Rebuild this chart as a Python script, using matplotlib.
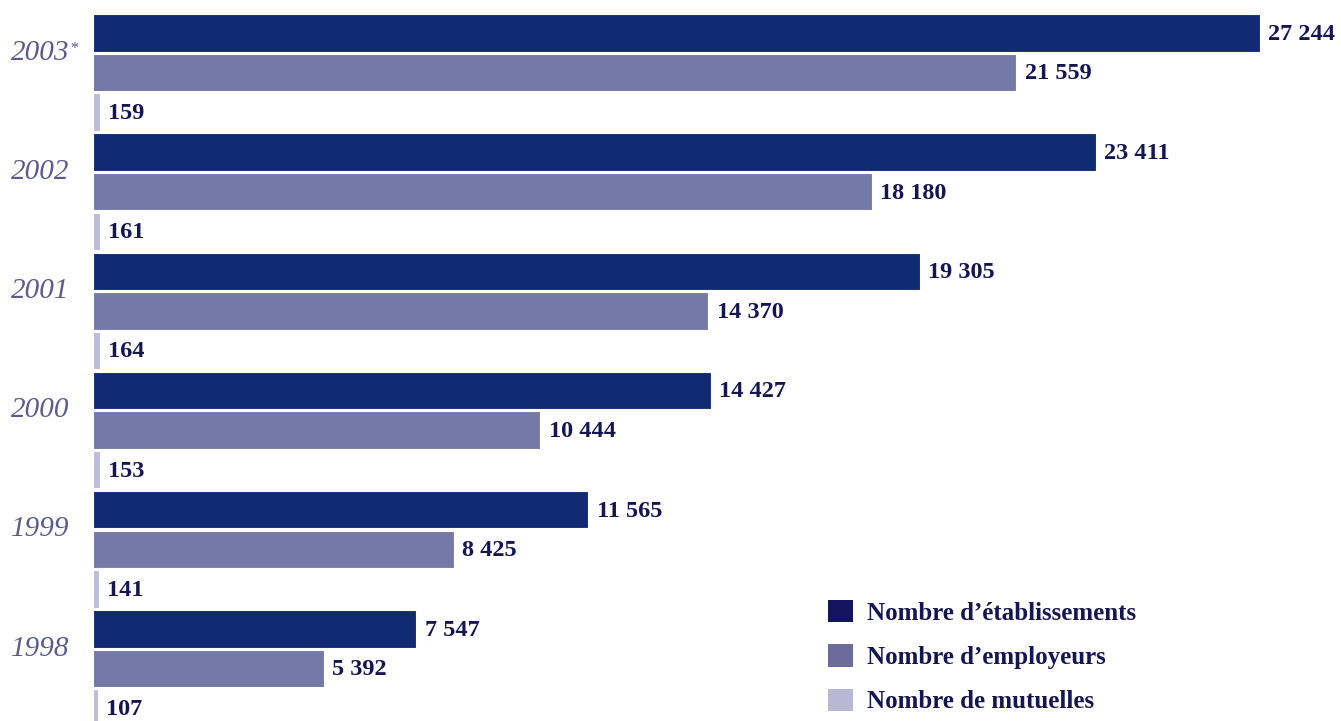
import matplotlib
matplotlib.use("Agg")
import matplotlib.pyplot as plt
from matplotlib.patches import Patch
from matplotlib.transforms import blended_transform_factory

years = ["2003", "2002", "2001", "2000", "1999", "1998"]
year_marks = ["*", "", "", "", "", ""]
etablissements = [27244, 23411, 19305, 14427, 11565, 7547]
employeurs = [21559, 18180, 14370, 10444, 8425, 5392]
mutuelles = [159, 161, 164, 153, 141, 107]
series_names = ["Nombre d\u2019établissements", "Nombre d\u2019employeurs", "Nombre de mutuelles"]

bar_colors = ["#102b72", "#7579a7", "#bdbdda"]
legend_colors = ["#14145f", "#6c6c9c", "#b8b8d5"]
text_color = "#151552"
year_color = "#5b5b8d"

def fmt(v):
    return f"{v:,}".replace(",", " ")

FONT = "Liberation Serif"

fig = plt.figure(figsize=(13.41, 7.21), dpi=100)
ax = fig.add_axes([93 / 1341, 0, 1 - 93 / 1341, 1])

group_pitch = 3.01
bar_h = 0.947
series = [etablissements, employeurs, mutuelles]

for j, vals in enumerate(series):
    ys = [g * group_pitch + j for g in range(len(years))]
    ax.barh(ys, vals, height=bar_h, color=bar_colors[j], edgecolor="white", linewidth=0.8)
    for y, v in zip(ys, vals):
        ax.annotate(fmt(v), xy=(v, y), xytext=(6, -1), textcoords="offset points",
                    ha="left", va="center", fontsize=17.5, fontweight="bold",
                    family=FONT, color=text_color)

trans = blended_transform_factory(fig.transFigure, ax.transData)
for g, (yr, mk) in enumerate(zip(years, year_marks)):
    t = ax.text(11 / 1341, g * group_pitch + 0.5, yr, transform=trans, ha="left", va="center",
                fontsize=21, fontstyle="italic", family=FONT, color=year_color)
    if mk:
        ax.annotate(mk, xy=(1, 1), xycoords=t, xytext=(0, -1), textcoords="offset points",
                    ha="left", va="top", fontsize=12, fontstyle="italic", family=FONT,
                    color=year_color)

ax.set_xlim(0, 29140)
ax.set_ylim(-0.833 + 18.21, -0.833)
ax.axis("off")

handles = [Patch(facecolor=c, edgecolor="none") for c in legend_colors]
leg = fig.legend(handles, series_names, loc="upper left",
                 bbox_to_anchor=(828 / 1341, 1 - 600 / 721), frameon=False,
                 prop={"family": FONT, "weight": "bold", "size": 18},
                 handlelength=1.0, handleheight=1.0, handletextpad=0.55,
                 labelspacing=0.78, borderpad=0, borderaxespad=0)
for txt in leg.get_texts():
    txt.set_color(text_color)

fig.savefig("out.png", dpi=100)
